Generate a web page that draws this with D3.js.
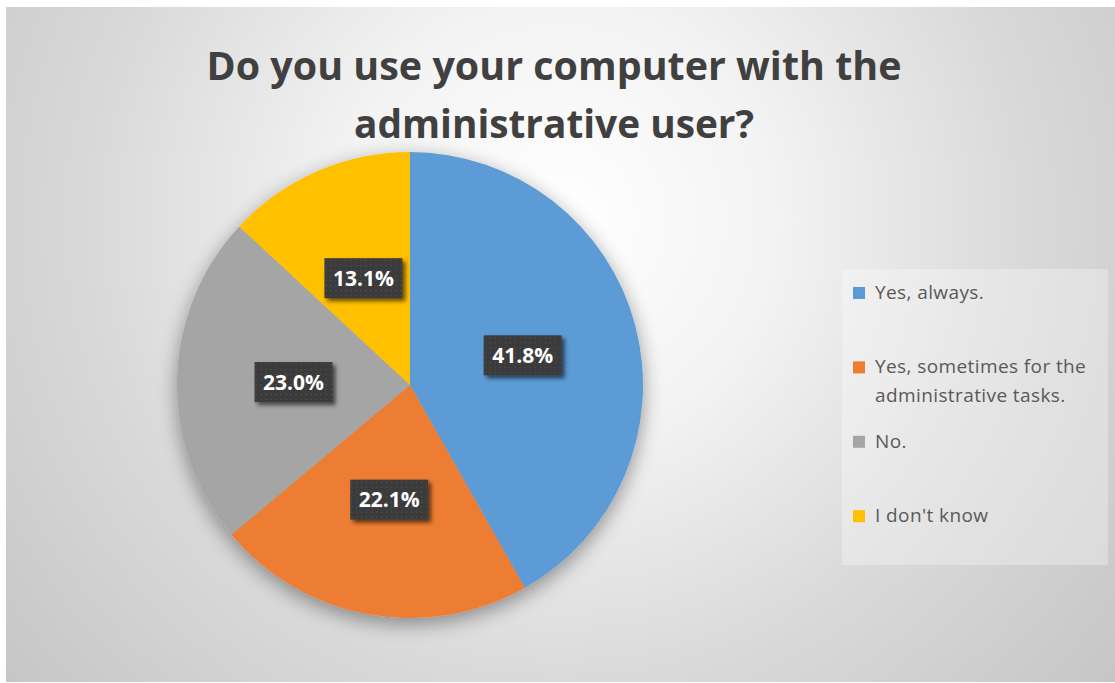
<!DOCTYPE html>
<html>
<head>
<meta charset="utf-8">
<script src="https://cdn.jsdelivr.net/npm/d3@7"></script>
<style>
  html, body { margin: 0; padding: 0; background: #ffffff; }
  svg { display: block; }
</style>
</head>
<body>
<svg id="chart" width="1115" height="683"></svg>
<script>
// Survey answers and their shares (percent)
const categories = ["Yes, always.", "Yes, sometimes for the administrative tasks.", "No.", "I don't know"];
const shares = [41.8, 22.1, 23.0, 13.1];
const colors = ["#5b9bd5", "#ed7d31", "#a5a5a5", "#ffc000"];
const titleLines = ["Do you use your computer with the", "administrative user?"];

const W = 1115, H = 683;
const svg = d3.select("#chart");
const defs = svg.append("defs");

// Background: soft radial gradient in the chart area
const bg = defs.append("radialGradient")
  .attr("id", "bgGrad")
  .attr("gradientUnits", "userSpaceOnUse")
  .attr("cx", 560).attr("cy", 220).attr("r", 720);
bg.append("stop").attr("offset", 0).attr("stop-color", "#ffffff");
bg.append("stop").attr("offset", 0.3).attr("stop-color", "#f3f3f3");
bg.append("stop").attr("offset", 0.65).attr("stop-color", "#d9d9d9");
bg.append("stop").attr("offset", 1).attr("stop-color", "#c6c6c6");

svg.append("rect")
  .attr("x", 6).attr("y", 7)
  .attr("width", W - 6).attr("height", H - 8)
  .attr("fill", "url(#bgGrad)");

// Soft shadow around the pie
const pieShadow = defs.append("filter").attr("id", "pieShadow")
  .attr("x", "-20%").attr("y", "-20%").attr("width", "140%").attr("height", "140%");
pieShadow.append("feGaussianBlur").attr("in", "SourceAlpha").attr("stdDeviation", 10).attr("result", "b");
pieShadow.append("feOffset").attr("in", "b").attr("dx", 0).attr("dy", 6).attr("result", "o");
pieShadow.append("feComponentTransfer").attr("in", "o").attr("result", "s")
  .append("feFuncA").attr("type", "linear").attr("slope", 0.4);
const pm = pieShadow.append("feMerge");
pm.append("feMergeNode").attr("in", "s");
pm.append("feMergeNode").attr("in", "SourceGraphic");

// Shadow for data-label boxes
const boxShadow = defs.append("filter").attr("id", "boxShadow")
  .attr("x", "-20%").attr("y", "-30%").attr("width", "150%").attr("height", "170%");
boxShadow.append("feGaussianBlur").attr("in", "SourceAlpha").attr("stdDeviation", 2).attr("result", "b");
boxShadow.append("feOffset").attr("in", "b").attr("dx", 3).attr("dy", 3).attr("result", "o");
boxShadow.append("feComponentTransfer").attr("in", "o").attr("result", "s")
  .append("feFuncA").attr("type", "linear").attr("slope", 0.6);
const bm = boxShadow.append("feMerge");
bm.append("feMergeNode").attr("in", "s");
bm.append("feMergeNode").attr("in", "SourceGraphic");

// Dotted fill for data-label boxes
const dots = defs.append("pattern").attr("id", "dots")
  .attr("patternUnits", "userSpaceOnUse").attr("width", 5).attr("height", 5);
dots.append("rect").attr("width", 5).attr("height", 5).attr("fill", "#3a3a3a");
dots.append("rect").attr("x", 2).attr("y", 2).attr("width", 1).attr("height", 1).attr("fill", "#5e5e5e");

// Title (two lines, narrowed to a condensed look)
const title = svg.append("g").attr("font-family", "'Open Sans', sans-serif")
  .attr("font-weight", 700).attr("fill", "#404040").attr("text-anchor", "middle");
const titleBaselines = [80, 138];
const titleWidths = [695, 400];
titleLines.forEach((t, i) => {
  title.append("text")
    .attr("x", 554).attr("y", titleBaselines[i])
    .attr("font-size", 39)
    .attr("textLength", titleWidths[i])
    .attr("lengthAdjust", "spacingAndGlyphs")
    .text(t);
});

// Pie
const cx = 410, cy = 385, R = 233;
const pie = d3.pie().sort(null).value(d => d.value);
const arcs = pie(categories.map((c, i) => ({ name: c, value: shares[i], color: colors[i] })));
const arc = d3.arc().innerRadius(0).outerRadius(R);

const pieG = svg.append("g").attr("transform", `translate(${cx},${cy})`);
pieG.append("g").attr("filter", "url(#pieShadow)")
  .selectAll("path").data(arcs).join("path")
  .attr("d", arc)
  .attr("fill", d => d.data.color);

// Data labels in dark boxes at slice centroids
const fmt = d3.format(".1f");
const labels = pieG.append("g").selectAll("g").data(arcs).join("g")
  .attr("transform", d => `translate(${arc.centroid(d)})`);
labels.append("rect")
  .attr("x", -39).attr("y", -20).attr("width", 78).attr("height", 40)
  .attr("fill", "url(#dots)")
  .attr("filter", "url(#boxShadow)");
labels.append("text")
  .attr("text-anchor", "middle")
  .attr("dy", "0.36em")
  .attr("font-family", "'Open Sans', sans-serif")
  .attr("font-weight", 700)
  .attr("font-size", 21)
  .attr("fill", "#ffffff")
  .text(d => fmt(d.data.value) + "%");

// Legend
const legend = svg.append("g");
legend.append("rect")
  .attr("x", 842).attr("y", 269).attr("width", 266).attr("height", 296)
  .attr("fill", "#ffffff").attr("fill-opacity", 0.3);

const legendTop = 299, legendStep = 74.4, lineH = 29, maxW = 228;
const items = legend.selectAll("g.item").data(categories).join("g")
  .attr("class", "item")
  .attr("transform", (d, i) => `translate(853,${legendTop + i * legendStep})`);
items.append("rect")
  .attr("x", 0).attr("y", -12).attr("width", 12).attr("height", 12)
  .attr("fill", (d, i) => colors[i]);
items.each(function (d) {
  const g = d3.select(this);
  const text = g.append("text")
    .attr("x", 22).attr("y", 0)
    .attr("font-family", "'Open Sans', sans-serif")
    .attr("font-size", 19)
    .attr("letter-spacing", 0.4)
    .attr("fill", "#595959");
  const words = d.split(" ");
  let line = [];
  let tspan = text.append("tspan").attr("x", 22).attr("y", 0);
  let lineNo = 0;
  words.forEach(w => {
    line.push(w);
    tspan.text(line.join(" "));
    if (tspan.node().getComputedTextLength() > maxW && line.length > 1) {
      line.pop();
      tspan.text(line.join(" "));
      line = [w];
      lineNo++;
      tspan = text.append("tspan").attr("x", 22).attr("y", lineNo * lineH).text(w);
    }
  });
});
</script>
</body>
</html>
